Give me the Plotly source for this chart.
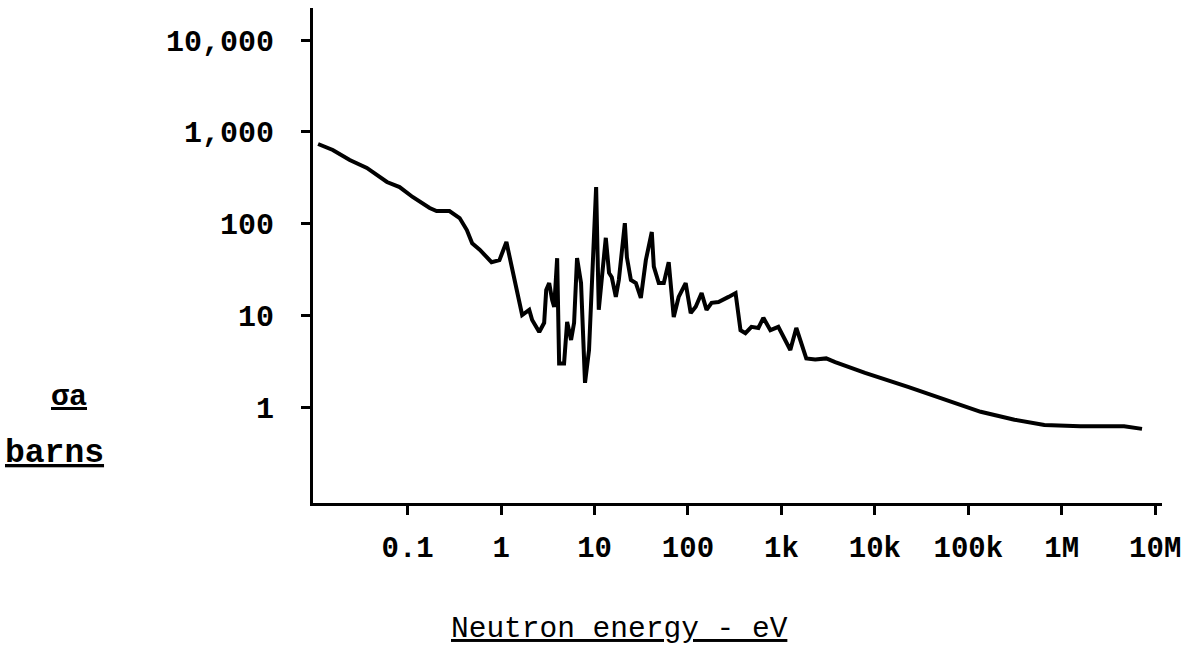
import plotly.graph_objects as go

# Neutron energy (eV) and absorption cross section (barns)
energy_ev = [
    0.011, 0.0158, 0.024, 0.0366, 0.060, 0.082, 0.113, 0.172, 0.204, 0.28,
    0.36, 0.43, 0.49, 0.59, 0.79, 0.96, 1.14, 1.38, 1.68, 2.0,
    2.15, 2.56, 2.89, 3.04, 3.27, 3.52, 3.70, 3.98, 4.18, 4.72,
    5.09, 5.61, 6.04, 6.50, 7.17, 7.91, 8.73, 10.4, 10.9, 11.1,
    12.0, 13.2, 14.3, 15.3, 16.9, 18.2, 21.1, 22.2, 24.5, 27.7,
    31.3, 35.4, 41.0, 43.1, 48.7, 55.1, 62.2, 70.4, 79.5, 94.5,
    107, 121, 140, 158, 179, 212, 272, 323, 365, 412,
    478, 567, 641, 762, 927, 1101, 1245, 1443, 1633, 1845,
    2302, 3016, 3761, 7850, 22600, 56100, 135600, 312000, 652000, 1.58e6,
    4.65e6, 7.23e6,
]
sigma_a_barns = [
    737, 634, 493, 404, 284, 250, 195, 148, 137, 137,
    115, 85, 61, 52, 38, 40, 63, 26, 10.1, 11.5,
    8.9, 6.6, 8.3, 18.9, 22.5, 14.7, 12.4, 42, 3.0, 3.0,
    8.5, 5.4, 8.3, 42, 22.5, 1.84, 4.2, 250, 34, 11.5,
    26, 70, 29, 26, 15.9, 24.3, 101, 43, 24.3, 22.5,
    15.5, 40, 81, 34, 22.5, 22.5, 38, 9.6, 15.9, 22.5,
    10.6, 12.4, 17.5, 11.5, 13.7, 14.0, 15.9, 17.5, 6.9, 6.4,
    7.5, 7.3, 9.4, 6.9, 7.5, 5.4, 4.2, 7.3, 5.1, 3.4,
    3.3, 3.4, 3.1, 2.36, 1.66, 1.20, 0.89, 0.73, 0.64, 0.62,
    0.62, 0.58,
]

x_tickvals = [0.1, 1, 10, 100, 1e3, 1e4, 1e5, 1e6, 1e7]
x_ticktext = ["0.1", "1", "10", "100", "1k", "10k", "100k", "1M", "10M"]
y_tickvals = [1, 10, 100, 1000, 10000]
y_ticktext = ["1", "10", "100", "1,000", "10,000"]

FONT = "Liberation Mono"

fig = go.Figure()
fig.add_trace(go.Scatter(
    x=energy_ev, y=sigma_a_barns, mode="lines",
    line=dict(color="black", width=4),
    showlegend=False, hoverinfo="skip",
))

fig.update_layout(
    width=1189, height=646,
    margin=dict(l=313, r=24, t=8, b=143, pad=0),
    paper_bgcolor="white", plot_bgcolor="white",
    font=dict(family=FONT, color="black"),
    showlegend=False,
)

fig.update_xaxes(
    type="log", range=[-2.013, 7.073],
    tickvals=x_tickvals, ticktext=x_ticktext,
    showgrid=False, zeroline=False,
    showline=True, linecolor="black", linewidth=3,
    ticks="outside", ticklen=9, tickwidth=2.5, tickcolor="black",
    tickfont=dict(family=FONT, size=29, color="black", weight="bold"),
    ticklabelstandoff=7,
)
fig.update_yaxes(
    type="log", range=[-1.044, 4.349],
    tickvals=y_tickvals, ticktext=y_ticktext,
    showgrid=False, zeroline=False,
    showline=True, linecolor="black", linewidth=3,
    ticks="outside", ticklen=9, tickwidth=2.5, tickcolor="black",
    tickfont=dict(family=FONT, size=30, color="black", weight="bold"),
    ticklabelstandoff=21,
)

fig.add_annotation(
    text="<u>Neutron energy - eV</u>", xref="paper", yref="paper",
    x=0.3615, y=-0.2545, xanchor="center", yanchor="middle",
    showarrow=False, font=dict(family=FONT, size=29.5, color="black"),
)
fig.add_annotation(
    text="<u>σa</u>", xref="paper", yref="paper",
    x=-0.2876, y=0.215, xanchor="center", yanchor="middle",
    showarrow=False, font=dict(family=FONT, size=30, color="black", weight="bold"),
)
fig.add_annotation(
    text="<u>barns</u>", xref="paper", yref="paper",
    x=-0.304, y=0.100, xanchor="center", yanchor="middle",
    showarrow=False, font=dict(family=FONT, size=33, color="black", weight="bold"),
)

fig.write_html(
    "out.html",
    config={"displayModeBar": False},
    post_script="document.body.style.margin='0';document.body.style.overflow='hidden';",
)
